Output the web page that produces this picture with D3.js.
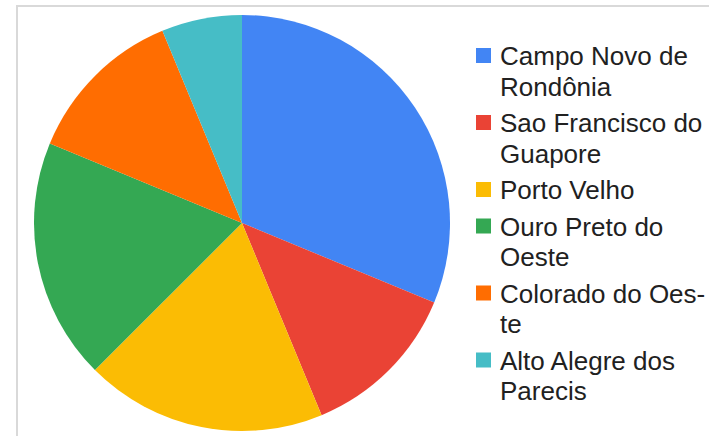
<!DOCTYPE html>
<html>
<head>
<meta charset="utf-8">
<script src="https://cdn.jsdelivr.net/npm/d3@7"></script>
<style>
  html, body { margin: 0; padding: 0; background: #fff; }
  svg { display: block; }
</style>
</head>
<body>
<svg id="chart" width="709" height="436"></svg>
<script>
const categories = ["Campo Novo de Rondônia", "Sao Francisco do Guapore", "Porto Velho", "Ouro Preto do Oeste", "Colorado do Oeste", "Alto Alegre dos Parecis"];
const values = [5, 2, 3, 3, 2, 1];
const colors = ["#4285F4", "#EA4335", "#FBBC04", "#34A853", "#FF6D01", "#46BDC6"];

const svg = d3.select("#chart");
const W = 709, H = 436;

// frame
svg.append("rect")
  .attr("x", 17).attr("y", 6)
  .attr("width", W + 20).attr("height", H + 20)
  .attr("fill", "none").attr("stroke", "#d9d9d9").attr("stroke-width", 2);

const data = categories.map((c, i) => ({ name: c, value: values[i], color: colors[i] }));

const cx = 242, cy = 223, r = 208;
const pie = d3.pie().value(d => d.value).sort(null);
const arc = d3.arc().innerRadius(0).outerRadius(r);

svg.append("g").attr("transform", `translate(${cx},${cy})`)
  .selectAll("path").data(pie(data)).join("path")
  .attr("d", arc)
  .attr("fill", d => d.data.color);

// legend
const fontSize = 26, lineH = 30.5, itemGap = 6, maxW = 210;
const legX = 476, textX = 500, firstBaseline = 65, sq = 15;
const lg = svg.append("g").attr("font-family", "'Liberation Sans', Arial, sans-serif")
  .attr("font-size", fontSize).attr("fill", "#212121");

const measurer = lg.append("text").attr("x", -1000).attr("y", -1000);
function width(s) { measurer.text(s); return measurer.node().getComputedTextLength(); }

function wrap(str) {
  const words = str.split(" ");
  const lines = [];
  let cur = "";
  for (let w of words) {
    const trial = cur ? cur + " " + w : w;
    if (width(trial) <= maxW) { cur = trial; continue; }
    // try hyphenation: at least 3 chars before, 2 after
    let done = false;
    if (cur) {
      for (let k = w.length - 2; k >= 3; k--) {
        const part = cur + " " + w.slice(0, k) + "-";
        if (width(part) <= maxW) {
          lines.push(part);
          cur = w.slice(k);
          done = true;
          break;
        }
      }
    }
    if (!done) { if (cur) lines.push(cur); cur = w; }
  }
  if (cur) lines.push(cur);
  return lines;
}

let y = firstBaseline;
data.forEach((d, i) => {
  const lines = wrap(d.name);
  lg.append("rect").attr("x", legX).attr("y", y - 17).attr("width", sq).attr("height", sq).attr("fill", d.color);
  const t = lg.append("text").attr("x", textX).attr("y", y);
  lines.forEach((ln, j) => {
    t.append("tspan").attr("x", textX).attr("y", y + j * lineH).text(ln);
  });
  y += lines.length * lineH + itemGap;
});
measurer.remove();
</script>
</body>
</html>
